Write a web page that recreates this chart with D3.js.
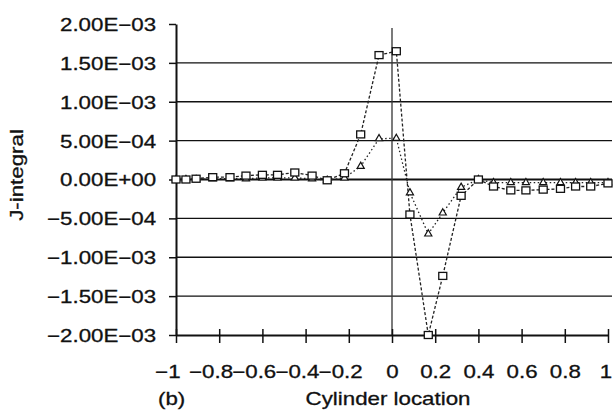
<!DOCTYPE html>
<html>
<head>
<meta charset="utf-8">
<script src="https://cdn.jsdelivr.net/npm/d3@7"></script>
<style>
  html, body { margin: 0; padding: 0; background: #fff; }
  svg text { font-family: 'Liberation Sans', Arial, sans-serif; fill: #111; stroke: #111; stroke-width: 0.3px; }
</style>
</head>
<body>
<div id="chart-container"></div>
<script>
const chartWidth = 613;
const chartHeight = 410;

// Cylinder location (x) for each sample
const xVals = [-1, -0.954, -0.907, -0.83, -0.75, -0.676, -0.6, -0.53, -0.45, -0.37, -0.3, -0.22,
  -0.145, -0.06, 0.02, 0.083, 0.168, 0.235, 0.32, 0.4, 0.47, 0.55, 0.62, 0.7, 0.78, 0.85, 0.92, 1.0];

// J-integral, square markers (dashed)
const squareVals = [0, 0, 0.00001, 0.00003, 0.00003, 0.00005, 0.00006, 0.00006, 0.00009, 0.00005, -0.00001, 0.00008,
  0.00058, 0.0016, 0.00165, -0.00045, -0.002, -0.00124, -0.00021, 0, -0.00009, -0.00014, -0.00014, -0.00013,
  -0.00012, -0.00009, -0.00009, -0.00005];

// J-integral, triangle markers (dotted)
const triangleVals = [0, 0, 0, 0.00001, 0.00001, 0.00001, 0.00002, 0.00002, 0.00002, 0.00001, -0.00001, 0.00002,
  0.00017, 0.000525, 0.00053, -0.00017, -0.0007, -0.00043, -0.0001, 0, -0.00004, -0.00004, -0.00004, -0.00004,
  -0.00004, -0.00004, -0.00004, -0.00004];

const xTicks = [-1, -0.8, -0.6, -0.4, -0.2, 0, 0.2, 0.4, 0.6, 0.8, 1];
const xTickLabels = ['\u22121', '\u22120.8', '\u22120.6', '\u22120.4', '\u22120.2', '0', '0.2', '0.4', '0.6', '0.8', '1'];
const yTicks = [-0.002, -0.0015, -0.001, -0.0005, 0, 0.0005, 0.001, 0.0015, 0.002];
const yTickLabels = ['\u22122.00E\u221203', '\u22121.50E\u221203', '\u22121.00E\u221203', '\u22125.00E\u221204',
  '0.00E+00', '5.00E\u221204', '1.00E\u221203', '1.50E\u221203', '2.00E\u221203'];

// the scanned lettering is wider than Arial
const stretch = 'scale(1.24,1)';
const fontSize = '18px';

const svg = d3.select('#chart-container')
  .append('svg')
  .attr('width', chartWidth)
  .attr('height', chartHeight);

const x = d3.scaleLinear().domain([-1, 1]).range([176, 608]);
const y = d3.scaleLinear().domain([-0.002, 0.002]).range([335, 24]);

// Gridlines
svg.append('g')
  .selectAll('line')
  .data(yTicks.filter((d) => d > -0.002 && d < 0.002))
  .enter()
  .append('line')
  .attr('x1', x(-1))
  .attr('x2', x(1) + 4)
  .attr('y1', (d) => y(d))
  .attr('y2', (d) => y(d))
  .attr('stroke', '#111')
  .attr('stroke-width', (d) => (d === 0 ? 1.8 : 1.4));

// Vertical line at x = 0
svg.append('line')
  .attr('x1', x(0))
  .attr('x2', x(0))
  .attr('y1', y(0.002) + 4)
  .attr('y2', y(-0.002))
  .attr('stroke', '#333')
  .attr('stroke-width', 1.3);

// Y axis
const yAxis = d3.axisLeft(y)
  .tickValues(yTicks)
  .tickSize(7)
  .tickSizeOuter(0)
  .tickFormat((d, i) => yTickLabels[i]);

const gy = svg.append('g')
  .attr('transform', `translate(${x(-1)},0)`)
  .call(yAxis);
gy.select('.domain').attr('stroke', '#111').attr('stroke-width', 2);
gy.selectAll('.tick line').attr('stroke', '#111').attr('stroke-width', 1.5);
gy.selectAll('.tick text')
  .attr('x', -16)
  .attr('dy', '0.36em')
  .attr('transform', stretch)
  .style('font-size', fontSize);

// X axis
const xAxis = d3.axisBottom(x)
  .tickValues(xTicks)
  .tickSize(8)
  .tickSizeOuter(0)
  .tickFormat((d, i) => xTickLabels[i]);

const gx = svg.append('g')
  .attr('transform', `translate(0,${y(-0.002)})`)
  .call(xAxis);
gx.select('.domain').attr('stroke', '#111').attr('stroke-width', 2);
gx.selectAll('.tick line')
  .attr('y1', -6)
  .attr('y2', 8)
  .attr('stroke', '#111')
  .attr('stroke-width', 1.5);
gx.selectAll('.tick text')
  .attr('y', 43)
  .attr('dy', 0)
  .attr('dx', (d) => (d < 0 ? -7 : d === 1 ? -2 : 0))
  .attr('transform', stretch)
  .style('font-size', fontSize);

// Titles
svg.append('text')
  .attr('transform', `translate(388,405) ${stretch}`)
  .attr('text-anchor', 'middle')
  .style('font-size', fontSize)
  .text('Cylinder location');

svg.append('text')
  .attr('transform', `translate(158,405) ${stretch}`)
  .style('font-size', fontSize)
  .text('(b)');

svg.append('text')
  .attr('transform', `translate(23,175) rotate(-90) ${stretch}`)
  .attr('text-anchor', 'middle')
  .style('font-size', fontSize)
  .text('J-integral');

// Series
const squareData = xVals.map((d, i) => [d, squareVals[i]]);
const triangleData = xVals.map((d, i) => [d, triangleVals[i]]);

const line = d3.line()
  .x((d) => x(d[0]))
  .y((d) => y(d[1]));

svg.append('path')
  .datum(triangleData)
  .attr('fill', 'none')
  .attr('stroke', '#222')
  .attr('stroke-width', 1.3)
  .attr('stroke-dasharray', '1.5,2.5')
  .attr('d', line);

svg.append('path')
  .datum(squareData)
  .attr('fill', 'none')
  .attr('stroke', '#222')
  .attr('stroke-width', 1.3)
  .attr('stroke-dasharray', '3,2')
  .attr('d', line);

svg.append('g')
  .selectAll('path')
  .data(triangleData)
  .enter()
  .append('path')
  .attr('d', d3.symbol().type(d3.symbolTriangle).size(22))
  .attr('transform', (d) => `translate(${x(d[0])},${y(d[1])})`)
  .attr('fill', '#fff')
  .attr('stroke', '#111')
  .attr('stroke-width', 1.2);

svg.append('g')
  .selectAll('rect')
  .data(squareData)
  .enter()
  .append('rect')
  .attr('x', (d) => x(d[0]) - 4)
  .attr('y', (d) => y(d[1]) - 3.5)
  .attr('width', 8)
  .attr('height', 7)
  .attr('fill', '#fff')
  .attr('stroke', '#111')
  .attr('stroke-width', 1.3);
</script>
</body>
</html>
